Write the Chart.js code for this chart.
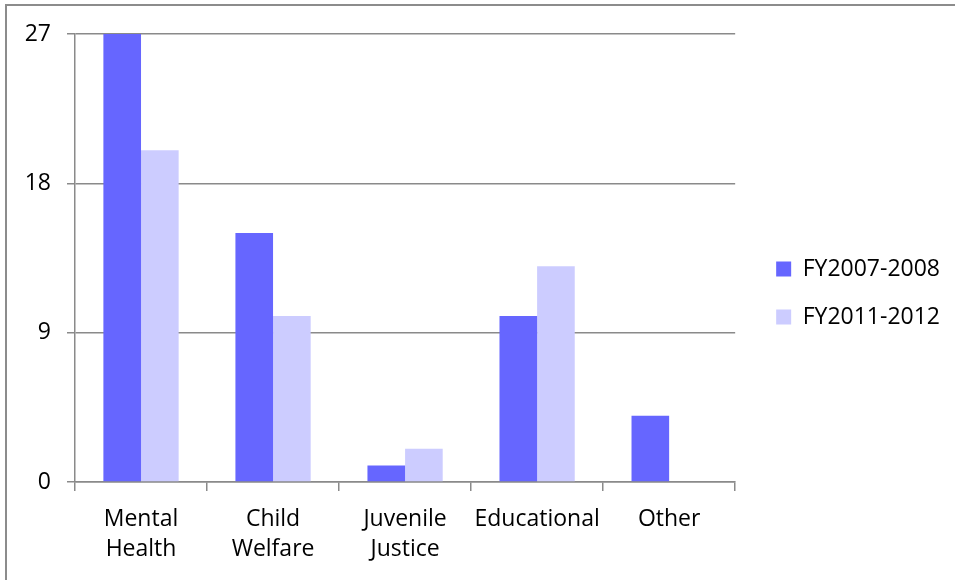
<!DOCTYPE html>
<html>
<head>
<meta charset="utf-8">
<script src="https://cdn.jsdelivr.net/npm/chart.js@4.4.1/dist/chart.umd.min.js"></script>
<style>
  html, body { margin: 0; padding: 0; background: #fff; }
  #frame {
    position: absolute; left: 5px; top: 4px; width: 960px; height: 590px;
    border-left: 2px solid #8c8c8c; border-top: 2px solid #8c8c8c;
  }
  #wrap { position: absolute; left: 0; top: 0; width: 955px; height: 580px; }
</style>
</head>
<body>
<div id="frame"></div>
<div id="wrap"><canvas id="programChart"></canvas></div>
<script>
// referrals by system, two fiscal years
const categories = [["Mental", "Health"], ["Child", "Welfare"], ["Juvenile", "Justice"], "Educational", "Other"];
const fy0708 = [27, 15, 1, 10, 4];
const fy1112 = [20, 10, 2, 13, 0];
const yTicks = [0, 9, 18, 27];

const axisGray = "#8a8a8a";
const font = { family: "'Open Sans', sans-serif", size: 23 };

// empty scale used only to reserve space around the plot
const spacer = (position, size) => ({
    position: position, display: true,
    grid: { display: false }, border: { display: false },
    ticks: { display: false },
    afterFit: s => {
        if (position === "top") s.height = size; else s.width = size;
    }
});

new Chart(document.getElementById("programChart"), {
    type: "bar",
    data: {
        labels: categories,
        datasets: [{
            label: "FY2007-2008",
            data: fy0708,
            backgroundColor: "#6666ff",
        }, {
            label: "FY2011-2012",
            data: fy1112,
            backgroundColor: "#ccccff",
        }]
    },
    options: {
        responsive: true,
        maintainAspectRatio: false,
        animation: false,
        layout: { padding: { top: 6, bottom: 0, left: 0, right: 5 } },
        datasets: { bar: { categoryPercentage: 0.57, barPercentage: 1 } },
        plugins: {
            tooltip: { enabled: false },
            legend: {
                position: "right",
                maxWidth: 260,
                labels: {
                    boxWidth: 15, boxHeight: 15, padding: 25,
                    color: "#000", font: font
                }
            }
        },
        scales: {
            x: {
                offset: true,
                grid: { offset: true, drawOnChartArea: false, drawTicks: true, tickLength: 9, color: axisGray, lineWidth: 1.5 },
                border: { display: true, color: axisGray, width: 1.5 },
                ticks: { color: "#000", font: { ...font, lineHeight: 1.3 }, padding: 14, maxRotation: 0 },
                afterFit: s => { s.height = 98; }
            },
            y: {
                min: 0, max: 27,
                afterBuildTicks: s => { s.ticks = yTicks.map(v => ({ value: v })); },
                grid: { color: axisGray, lineWidth: 1.5, tickLength: 8 },
                border: { display: true, color: axisGray, width: 1.5 },
                ticks: { color: "#000", font: font, padding: 16 },
                afterFit: s => { s.width = 75; }
            },
            topGap: spacer("top", 28),
            rightGap: spacer("right", 16)
        }
    }
});
</script>
</body>
</html>
